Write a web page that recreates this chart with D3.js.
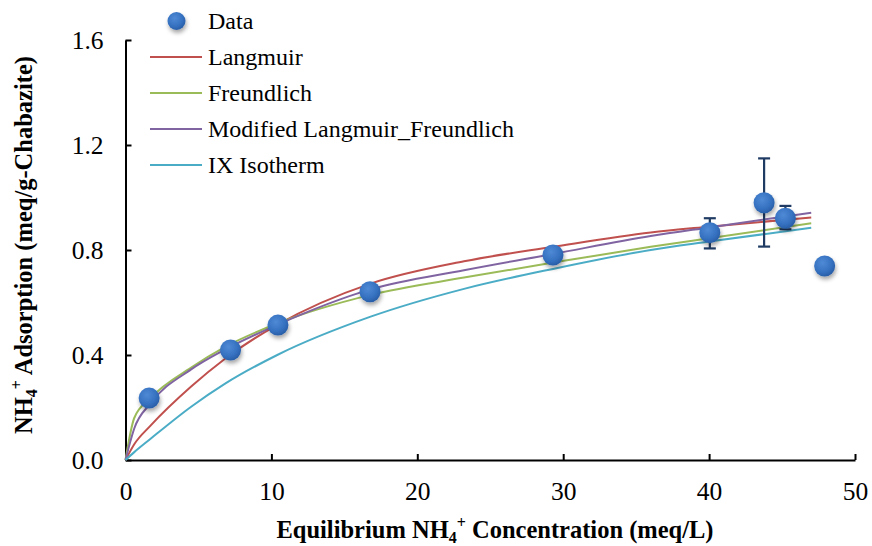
<!DOCTYPE html>
<html>
<head>
<meta charset="utf-8">
<script src="https://cdn.jsdelivr.net/npm/d3@7"></script>
<style>
  html, body { margin: 0; padding: 0; background: #fff; }
  svg { display: block; }
  svg text { font-family: "Liberation Serif", "Times New Roman", Times, serif; }
</style>
</head>
<body>
<svg id="chart" width="872" height="546"></svg>
<script>
// ---- data ----
const dataC = [1.62, 7.2, 10.45, 16.76, 29.3, 40.05, 43.77, 45.23, 47.92];
const dataQ = [0.236, 0.419, 0.514, 0.641, 0.781, 0.866, 0.980, 0.921, 0.739];
// error bars (low, high); null where none
const errLow  = [null, null, null, null, null, 0.806, 0.813, 0.879, null];
const errHigh = [null, null, null, null, null, 0.921, 1.149, 0.968, null];

const curveC     = [0, 0.6, 1.7, 4.5, 6.8, 10.4, 16.8, 23.2, 29.3, 36, 40, 47];
const langmuir   = [0, 0.06, 0.13, 0.28, 0.385, 0.515, 0.672, 0.757, 0.812, 0.867, 0.889, 0.924];
const freundlich = [0, 0.16, 0.235, 0.352, 0.43, 0.52, 0.629, 0.695, 0.752, 0.812, 0.845, 0.902];
const modifiedLF = [0, 0.12, 0.215, 0.345, 0.42, 0.515, 0.650, 0.723, 0.785, 0.853, 0.886, 0.942];
const ixIsotherm = [0, 0.03, 0.08, 0.203, 0.29, 0.40, 0.546, 0.652, 0.728, 0.80, 0.832, 0.885];

const seriesNames = ["Langmuir", "Freundlich", "Modified Langmuir_Freundlich", "IX Isotherm"];
const seriesValues = [langmuir, freundlich, modifiedLF, ixIsotherm];
const seriesColors = ["#C0504D", "#9BBB59", "#8064A2", "#4BACC6"];

const xTicks = [0, 10, 20, 30, 40, 50];
const yTicks = [0, 0.4, 0.8, 1.2, 1.6];

// ---- drawing ----
const FONT = '"Liberation Serif", "Times New Roman", Times, serif';
const svg = d3.select("#chart").attr("font-family", FONT);
const x = d3.scaleLinear().domain([0, 50]).range([125.5, 855]);
const y = d3.scaleLinear().domain([0, 1.6]).range([460, 40]);

const defs = svg.append("defs");
const grad = defs.append("radialGradient").attr("id", "ball")
  .attr("cx", "40%").attr("cy", "35%").attr("r", "65%");
grad.append("stop").attr("offset", "0%").attr("stop-color", "#4f8ad6");
grad.append("stop").attr("offset", "70%").attr("stop-color", "#3470bf");
grad.append("stop").attr("offset", "100%").attr("stop-color", "#2a5fa8");
const sh = defs.append("filter").attr("id", "shadow")
  .attr("x", "-50%").attr("y", "-50%").attr("width", "200%").attr("height", "200%");
sh.append("feDropShadow").attr("dx", 1).attr("dy", 3).attr("stdDeviation", 2)
  .attr("flood-color", "#000").attr("flood-opacity", 0.35);

// axes
const yAxis = d3.axisLeft(y).tickValues(yTicks).tickSizeInner(-6).tickSizeOuter(0)
  .tickFormat(d3.format(".1f"));
const xAxis = d3.axisBottom(x).tickValues(xTicks).tickSizeInner(-6).tickSizeOuter(0)
  .tickFormat(d3.format("d"));

const gy = svg.append("g").attr("transform", `translate(${x(0)},0)`).call(yAxis);
const gx = svg.append("g").attr("transform", `translate(0,${y(0)})`).call(xAxis);
[gx, gy].forEach(g => {
  g.attr("font-family", FONT);
  g.select(".domain").attr("stroke", "#000").attr("stroke-width", 2);
  g.selectAll(".tick line").attr("stroke", "#000").attr("stroke-width", 2);
  g.selectAll(".tick text").attr("fill", "#000").attr("font-size", 25.5)
    .attr("font-family", FONT);
});
gy.selectAll(".tick text").attr("x", -22).attr("dy", "0.34em");
gx.selectAll(".tick text").attr("y", 22).attr("dy", "0.71em");

// curves
const line = d3.line().x(d => x(d[0])).y(d => y(d[1])).curve(d3.curveMonotoneX);
seriesValues.forEach((vals, i) => {
  svg.append("path")
    .datum(curveC.map((c, j) => [c, vals[j]]))
    .attr("d", line).attr("fill", "none")
    .attr("stroke", seriesColors[i]).attr("stroke-width", 2);
});

// error bars
const eb = svg.append("g").attr("stroke", "#1F3B64").attr("stroke-width", 2.2);
dataC.forEach((c, i) => {
  if (errLow[i] == null) return;
  const cx = x(c);
  eb.append("line").attr("x1", cx).attr("x2", cx).attr("y1", y(errLow[i])).attr("y2", y(errHigh[i]));
  eb.append("line").attr("x1", cx - 6).attr("x2", cx + 6).attr("y1", y(errLow[i])).attr("y2", y(errLow[i]));
  eb.append("line").attr("x1", cx - 6).attr("x2", cx + 6).attr("y1", y(errHigh[i])).attr("y2", y(errHigh[i]));
});

// data markers
svg.append("g").selectAll("circle").data(dataC.map((c, i) => [c, dataQ[i]])).join("circle")
  .attr("cx", d => x(d[0])).attr("cy", d => y(d[1])).attr("r", 10.5)
  .attr("fill", "url(#ball)").attr("filter", "url(#shadow)");

// legend
const lg = svg.append("g");
lg.append("circle").attr("cx", 176.5).attr("cy", 21).attr("r", 9)
  .attr("fill", "url(#ball)").attr("filter", "url(#shadow)");
lg.append("text").attr("x", 208).attr("y", 21).attr("dy", "0.35em")
  .attr("font-size", 24).text("Data");
seriesNames.forEach((n, i) => {
  const yy = 57 + i * 36;
  lg.append("line").attr("x1", 150).attr("x2", 202).attr("y1", yy).attr("y2", yy)
    .attr("stroke", seriesColors[i]).attr("stroke-width", 2);
  lg.append("text").attr("x", 208).attr("y", yy).attr("dy", "0.35em")
    .attr("font-size", 24).text(n);
});

// axis titles
const xt = svg.append("text").attr("x", 495).attr("y", 538).attr("text-anchor", "middle")
  .attr("font-size", 24.5).attr("font-weight", "bold");
xt.append("tspan").text("Equilibrium NH");
xt.append("tspan").attr("font-size", 16).attr("dy", 5).text("4");
xt.append("tspan").attr("font-size", 16).attr("dy", -15).text("+");
xt.append("tspan").attr("dy", 10).text(" Concentration (meq/L)");

const yt = svg.append("text").attr("transform", "translate(32,245) rotate(-90)")
  .attr("text-anchor", "middle").attr("font-size", 24.5).attr("font-weight", "bold");
yt.append("tspan").text("NH");
yt.append("tspan").attr("font-size", 16).attr("dy", 5).text("4");
yt.append("tspan").attr("font-size", 16).attr("dy", -15).text("+");
yt.append("tspan").attr("dy", 10).text(" Adsorption (meq/g-Chabazite)");
</script>
</body>
</html>
